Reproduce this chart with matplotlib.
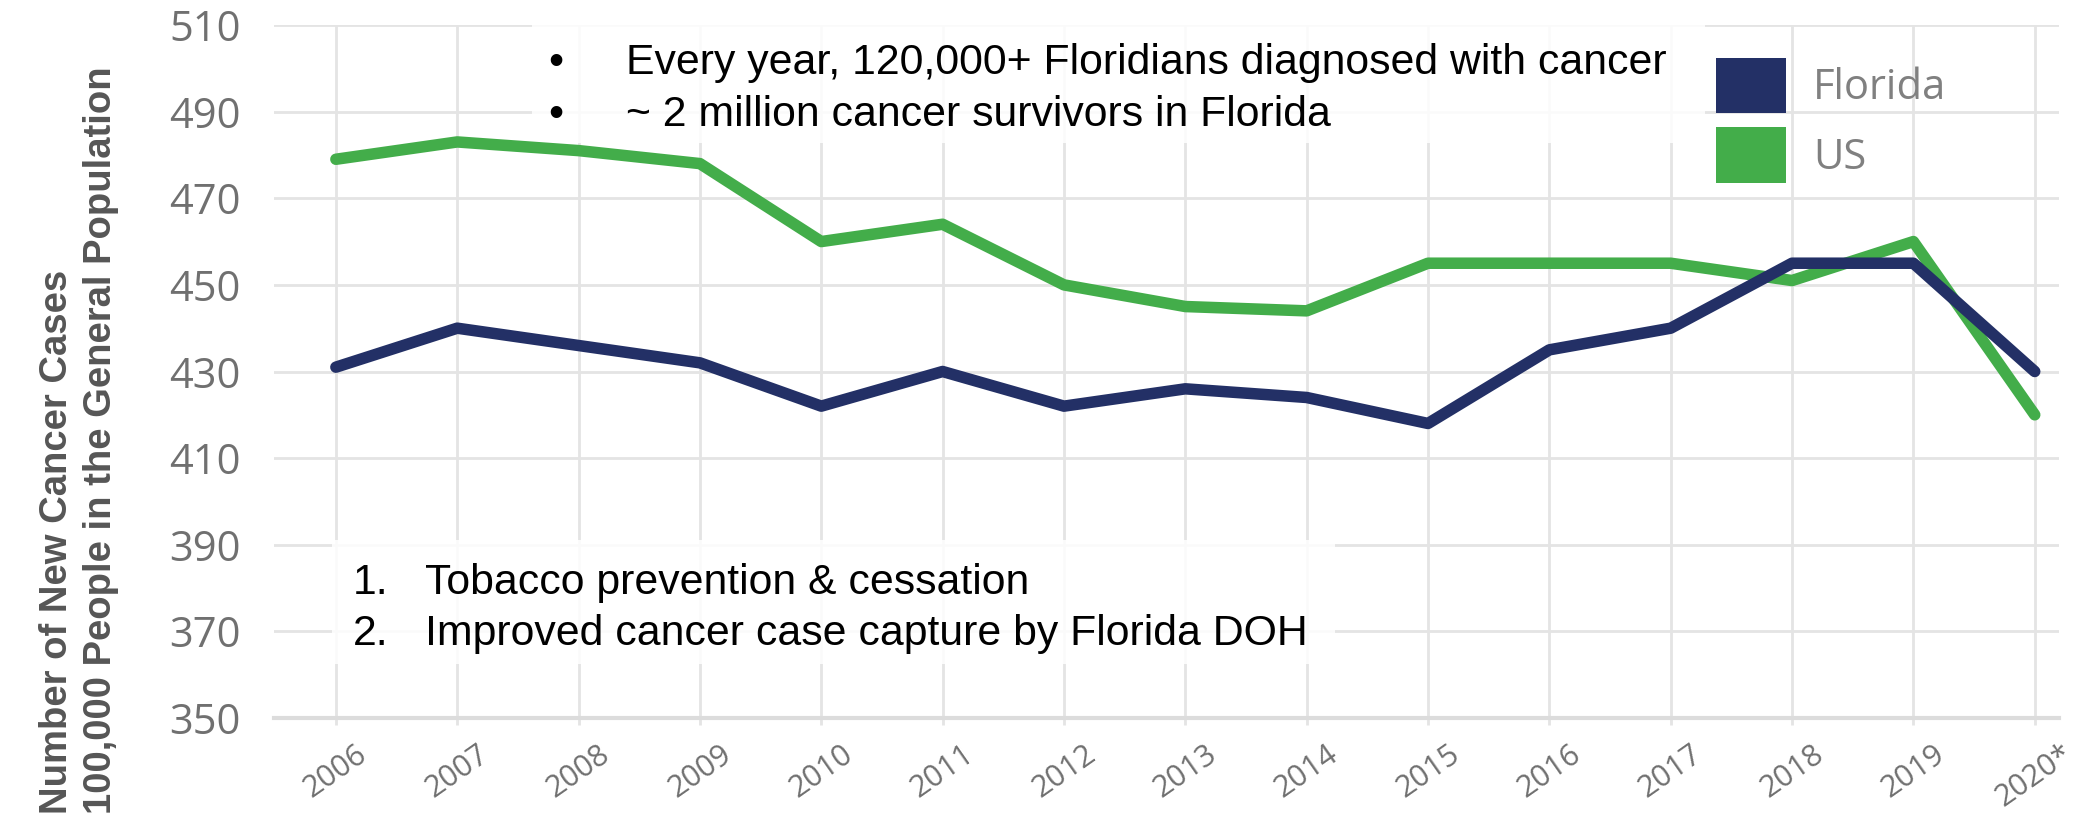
import matplotlib
matplotlib.use("Agg")
import matplotlib.pyplot as plt
from matplotlib import font_manager
from matplotlib.patches import Patch, Rectangle


years = [2006, 2007, 2008, 2009, 2010, 2011, 2012, 2013, 2014, 2015, 2016, 2017, 2018, 2019, 2020]
year_labels = ["2006", "2007", "2008", "2009", "2010", "2011", "2012", "2013", "2014",
               "2015", "2016", "2017", "2018", "2019", "2020*"]
florida = [431, 440, 436, 432, 422, 430, 422, 426, 424, 418, 435, 440, 455, 455, 430]
us = [479, 483, 481, 478, 460, 464, 450, 445, 444, 455, 455, 455, 451, 460, 420]
y_ticks = [350, 370, 390, 410, 430, 450, 470, 490, 510]

bullets = ["Every year, 120,000+ Floridians diagnosed with cancer",
           "~ 2 million cancer survivors in Florida"]
reasons = ["Tobacco prevention & cessation",
           "Improved cancer case capture by Florida DOH"]

FL_COLOR = "#233066"
US_COLOR = "#43ad4a"
GRID = "#e4e4e4"
TICK_GRAY = "#707070"

W, H = 2097, 816


def fx(px):
    return px / W


def fy(py):
    return 1 - py / H


def has_font(name):
    try:
        font_manager.findfont(font_manager.FontProperties(family=name), fallback_to_default=False)
        return True
    except ValueError:
        return False


narrow = has_font("Liberation Sans Narrow")
YLAB_FONT = "Liberation Sans Narrow" if narrow else "Liberation Sans"
YLAB_SIZE = 33 if narrow else 27.5

fig = plt.figure(figsize=(W / 100, H / 100), dpi=100)
ax = fig.add_axes([fx(274), fy(718), fx(2059) - fx(274), fy(25) - fy(718)])

ax.plot(years, us, color=US_COLOR, lw=8.3, solid_capstyle="round", solid_joinstyle="round", zorder=3)
ax.plot(years, florida, color=FL_COLOR, lw=8.3, solid_capstyle="round", solid_joinstyle="round", zorder=3)

ax.set_xlim(2005.49, 2020.2)
ax.set_ylim(350, 510)
ax.set_xticks(years)
ax.set_xticklabels(year_labels, rotation=35, ha="center", fontsize=22,
                   family="Open Sans", color=TICK_GRAY)
ax.set_yticks(y_ticks)
ax.set_yticklabels([str(v) for v in y_ticks], fontsize=30, family="Open Sans", color=TICK_GRAY)
ax.tick_params(axis="y", length=0, pad=24)
ax.tick_params(axis="x", length=5, width=2, color=GRID, pad=10)
ax.grid(True, color=GRID, lw=2)
ax.set_axisbelow(True)
for side in ["top", "right", "left"]:
    ax.spines[side].set_visible(False)
ax.spines["bottom"].set_color("#dcdcdc")
ax.spines["bottom"].set_linewidth(3)

# text boxes (semi-opaque white, gridlines faintly show through)
ax.add_patch(Rectangle((fx(532), fy(143)), fx(1705) - fx(532), fy(0) - fy(143),
                       transform=fig.transFigure, facecolor="white", alpha=0.85,
                       edgecolor="none", clip_on=False, zorder=2))
ax.add_patch(Rectangle((fx(332), fy(664)), fx(1335) - fx(332), fy(540) - fy(664),
                       transform=fig.transFigure, facecolor="white", alpha=0.85,
                       edgecolor="none", clip_on=False, zorder=2))

for i, s in enumerate(bullets):
    base = 74 + 52 * i
    fig.text(fx(556), fy(base), "\u2022", ha="center", va="baseline", fontsize=30.8,
             family="Liberation Sans", color="black")
    fig.text(fx(626), fy(base), s, ha="left", va="baseline", fontsize=30.8,
             family="Liberation Sans", color="black")

for i, s in enumerate(reasons):
    base = 594 + 51 * i
    fig.text(fx(353), fy(base), f"{i + 1}.", ha="left", va="baseline", fontsize=30.8,
             family="Liberation Sans", color="black")
    fig.text(fx(425), fy(base), s, ha="left", va="baseline", fontsize=30.8,
             family="Liberation Sans", color="black")

fig.text(fx(79), fy(814), "Number of New Cancer Cases\n100,000 People in the General Population",
         rotation=90, ha="center", va="bottom", multialignment="left",
         fontsize=YLAB_SIZE, family=YLAB_FONT, fontweight="bold", color="#565656",
         linespacing=1.28)

handles = [Patch(facecolor=FL_COLOR, edgecolor="none", label="Florida"),
           Patch(facecolor=US_COLOR, edgecolor="none", label="US")]
ax.legend(handles=handles, loc="upper left", bbox_to_anchor=(fx(1716), fy(58)),
          bbox_transform=fig.transFigure, frameon=False, borderpad=0, borderaxespad=0,
          handlelength=1.68, handleheight=1.66, handletextpad=0.65, labelspacing=0.34,
          prop={"family": "Open Sans", "size": 30}, labelcolor="#808080")

fig.savefig("out.png", dpi=100)
